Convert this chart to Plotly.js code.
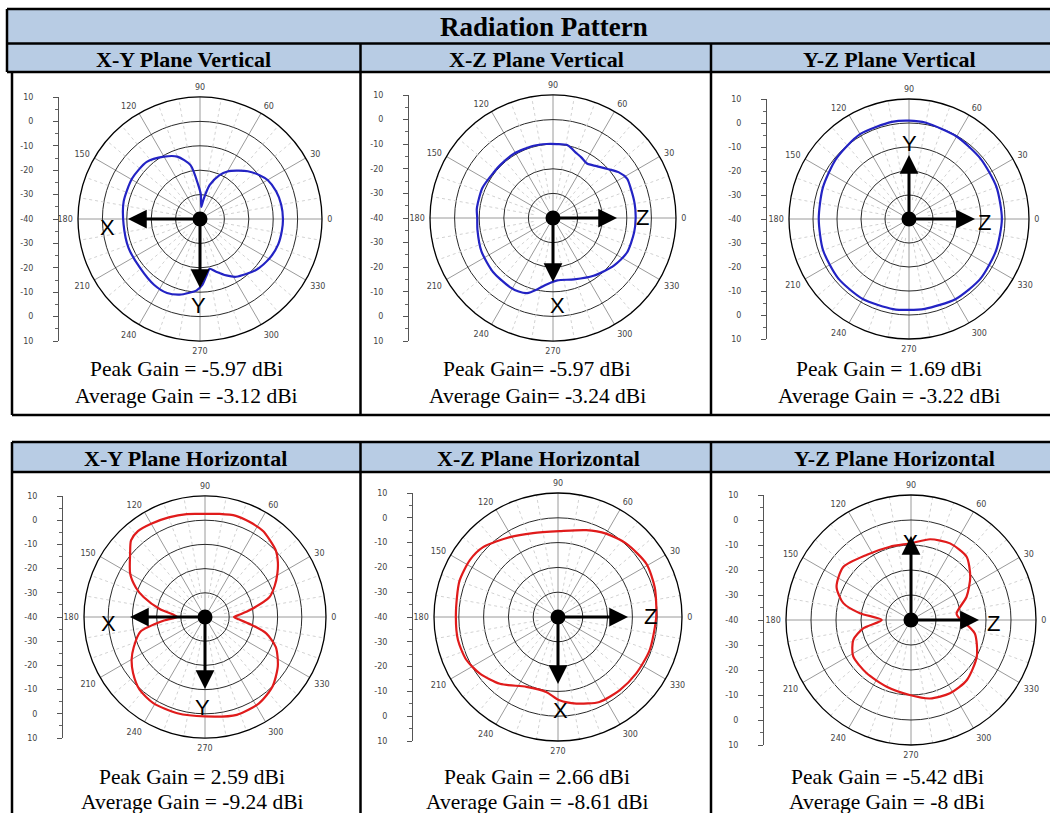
<!DOCTYPE html>
<html><head><meta charset="utf-8">
<script src="https://cdn.plot.ly/plotly-3.0.1.min.js"></script>
<style>html,body{margin:0;padding:0;background:#fff;}#chart{width:1050px;height:813px;}</style>
</head><body><div id="chart"></div>
<script>
const W = 1050, H = 813;

// ---------- text ----------
const mainTitle = 'Radiation Pattern';
const planeTitles = ['X-Y Plane Vertical', 'X-Z Plane Vertical', 'Y-Z Plane Vertical',
  'X-Y Plane Horizontal', 'X-Z Plane Horizontal', 'Y-Z Plane Horizontal'];
const peakText = ['Peak Gain = -5.97 dBi', 'Peak Gain= -5.97 dBi', 'Peak Gain = 1.69 dBi',
  'Peak Gain = 2.59 dBi', 'Peak Gain = 2.66 dBi', 'Peak Gain = -5.42 dBi'];
const avgText = ['Average Gain = -3.12 dBi', 'Average Gain= -3.24 dBi', 'Average Gain = -3.22 dBi',
  'Average Gain = -9.24 dBi', 'Average Gain = -8.61 dBi', 'Average Gain = -8 dBi'];
const axisLetters = [['X', 'Y'], ['Z', 'X'], ['Y', 'Z'], ['X', 'Y'], ['Z', 'X'], ['Y', 'Z']];

// ---------- pattern data (angle deg, gain dB) ----------
const theta1 = [0, 10, 20, 30, 36, 45, 53, 60, 66, 74, 80, 84, 88, 93, 100, 110, 120, 133, 149, 167, 184, 202, 219, 235, 246, 255, 262, 267, 272, 277, 281, 287, 295, 302, 318, 331, 342, 352, 360];
const r1 = [-6.0, -6.2, -6.8, -8.0, -9.6, -12.3, -15.2, -17.5, -20.3, -25.5, -32, -35, -30, -26, -17.6, -12.8, -10.5, -8.0, -7.6, -7.9, -8.6, -8.4, -8.3, -7.1, -6.8, -7.9, -9.5, -10.6, -13, -17, -19.2, -17.4, -14.5, -12.1, -8.9, -7.2, -6.3, -6.1, -6.0];

const theta2 = [0, 10, 20, 28, 35, 42, 50, 58, 65, 70, 79, 87, 95, 105, 121, 135, 142, 157, 173, 180, 189, 205, 222, 238, 245, 251, 258, 265, 274, 289, 305, 322, 335, 350, 360];
const r2 = [-6.4, -6.3, -6.2, -5.9, -7.5, -10.2, -12.5, -13.9, -12.8, -12, -9.8, -9.9, -9.8, -9.6, -9.4, -9.6, -9.6, -8.8, -8.8, -9.2, -8.9, -7.9, -7.2, -6.9, -7.0, -7.7, -10.5, -13, -14.6, -13.6, -11.3, -8.6, -6.8, -6.5, -6.4];

const theta3 = [0, 20, 40, 60, 80, 90, 100, 120, 140, 160, 180, 200, 220, 240, 260, 270, 280, 300, 320, 340, 360];
const r3 = [-1.3, -1.2, -1.0, -0.3, 0.7, 1.0, 1.1, 0.8, -0.6, -1.8, -2.4, -1.9, -1.5, -1.5, -1.9, -2.1, -2.0, -1.4, -1.2, -1.4, -1.3];

const theta4 = [0, 4, 9, 17, 24, 31, 37, 43, 50, 56, 65, 73, 82, 90, 100, 110, 120, 128, 134, 140, 150, 157, 162, 170, 176, 180, 185, 193, 203, 210, 218, 228, 239, 254, 270, 288, 302, 314, 326, 337, 345, 350, 356, 360];
const r4 = [-28, -25.5, -21, -12.2, -8.5, -5.1, -2.3, 0.1, 1.6, 2.9, 3.4, 3.7, 3.0, 2.6, 3.2, 3.8, 4.5, 5.0, 4.0, 0.4, -4.3, -9, -13.3, -21, -27, -28.5, -23, -12.5, -8, -5, -2.3, 0.4, 1.5, 1.4, 1.1, 2.5, 2.1, 0.1, -3.7, -8.2, -13.8, -20, -26, -28];

const theta5 = [0, 17, 31, 47, 60, 72, 89, 106.6, 121, 137, 147, 160, 178, 193, 205, 216, 229, 245.7, 261, 271, 282, 296, 310, 324, 340, 360];
const r5 = [-0.4, 0.8, 1.6, 0.4, -1.2, -3.2, -5.4, -4.7, -2.4, 1.3, 2.3, 2.3, 1.2, 1.4, 0.8, -1.1, -4.3, -9.1, -9.4, -6.4, -4.3, -1.9, -1.4, -1.1, -0.7, -0.4];

const theta6 = [0, 8, 22.7, 36, 48.7, 63, 76.7, 90, 106, 124, 142, 156, 166, 172.5, 180, 190, 199, 212, 230, 250, 269, 283.6, 298, 313, 331, 348, 358, 360];
const r6 = [-20, -21.6, -15.9, -10.7, -6.3, -5.6, -6.8, -9.3, -9.5, -8.5, -5.6, -7.4, -12.1, -19.4, -28.3, -20.6, -15.6, -12.7, -12.3, -11.6, -10, -7.7, -6.8, -7.2, -9.9, -13.9, -19, -20];

const thetas = [theta1, theta2, theta3, theta4, theta5, theta6];
const gains = [r1, r2, r3, r4, r5, r6];

// ---------- axis definitions ----------
const radialRange = [-40, 10];
const angTickVals = [0, 30, 60, 90, 120, 150, 180, 210, 240, 270, 300, 330];
const angTickText = ['0', '30', '60', '90', '120', '150', '180', '210', '240', '270', '300', '330'];
const scaleVals = [-50, -40, -30, -20, -10, 0, 10, 20, 30, 40, 50];
const scaleText = ['10', '0', '-10', '-20', '-30', '-40', '-30', '-20', '-10', '0', '10'];
const dottedAngles = [10, 20, 40, 50, 70, 80, 100, 110, 130, 140, 160, 170, 190, 200, 220, 230, 250, 260, 280, 290, 310, 320, 340, 350];

// ---------- layout geometry (pixels) ----------
const BLUE = '#2323c4', RED = '#e01b1b';
const cells = [
  {cx: 200, cy: 219, R: 122, sx: 59,  arrows: [[-72, 0], [0, 69]],  labels: [[107, 227], [198, 305]], tx: 186, ty1: 369, ty2: 396, color: BLUE},
  {cx: 553, cy: 218, R: 123, sx: 409, arrows: [[64, 0], [0, 64]],   labels: [[642, 218], [557, 305]], tx: 537, ty1: 369, ty2: 396, color: BLUE},
  {cx: 909, cy: 219, R: 120, sx: 767, arrows: [[0, -64], [66, 0]],  labels: [[909, 143], [984, 222]], tx: 889, ty1: 369, ty2: 396, color: BLUE},
  {cx: 205, cy: 617, R: 121, sx: 63,  arrows: [[-75, 0], [0, 72]],  labels: [[108, 623], [202, 707]], tx: 192, ty1: 777, ty2: 802, color: RED},
  {cx: 558, cy: 617, R: 124, sx: 413, arrows: [[70, 0], [0, 67]],   labels: [[650, 616], [560, 710]], tx: 537, ty1: 777, ty2: 802, color: RED},
  {cx: 911, cy: 620, R: 125, sx: 764, arrows: [[0, -84], [68, 0]],  labels: [[910, 542], [993, 623]], tx: 887, ty1: 777, ty2: 802, color: RED}
];
const headerX = [183, 536, 889, 185, 538, 894];
const headerY = [59, 59, 59, 458, 458, 458];

const PX = x => x / W;
const PY = y => 1 - y / H;

const traces = [];
const layout = {
  width: W, height: H,
  margin: {l: 0, r: 0, t: 0, b: 0},
  paper_bgcolor: '#ffffff',
  showlegend: false,
  hovermode: false,
  shapes: [],
  annotations: []
};

cells.forEach((c, i) => {
  const k = i + 1;
  const pid = k === 1 ? 'polar' : 'polar' + k;
  layout[pid] = {
    domain: {x: [PX(c.cx - c.R), PX(c.cx + c.R)], y: [PY(c.cy + c.R), PY(c.cy - c.R)]},
    bgcolor: '#ffffff',
    radialaxis: {range: radialRange, dtick: 10, showticklabels: false, ticks: '', showline: false,
      gridcolor: '#2a2a2a', gridwidth: 1},
    angularaxis: {tickmode: 'array', tickvals: angTickVals, ticktext: angTickText,
      rotation: 0, direction: 'counterclockwise', showline: true,
      linecolor: '#000', linewidth: 1.3, gridcolor: '#9a9a9a', gridwidth: 1,
      ticks: 'outside', ticklen: 3, tickcolor: 'rgba(0,0,0,0)',
      tickfont: {family: 'DejaVu Sans', size: 8, color: '#444'}}
  };
  // dotted secondary spokes
  const dt = [], dr = [];
  dottedAngles.forEach(a => { dt.push(a, a, null); dr.push(radialRange[0] + 8, radialRange[1], null); });
  traces.push({type: 'scatterpolar', subplot: pid, theta: dt, r: dr, mode: 'lines',
    line: {color: '#d2d2d2', width: 1, dash: 'dot'}, hoverinfo: 'skip', connectgaps: false});
  // pattern
  traces.push({type: 'scatterpolar', subplot: pid, theta: thetas[i], r: gains[i], mode: 'lines',
    line: {color: c.color, width: 2.2, shape: 'spline', smoothing: 0.7}, hoverinfo: 'skip'});
  // centre dot
  traces.push({type: 'scatterpolar', subplot: pid, theta: [0], r: [radialRange[0]], mode: 'markers',
    marker: {color: '#000', size: 15}, hoverinfo: 'skip'});

  // scale bar on the left (cartesian y axis)
  const xa = 'xaxis' + (k === 1 ? '' : k), ya = 'yaxis' + (k === 1 ? '' : k);
  const xs = 'x' + (k === 1 ? '' : k), ys = 'y' + (k === 1 ? '' : k);
  layout[xa] = {domain: [PX(c.sx), PX(c.sx + 2)], range: [0, 1], visible: false, fixedrange: true, anchor: ys};
  layout[ya] = {domain: [PY(c.cy + c.R), PY(c.cy - c.R)], range: [-50, 50], anchor: xs, side: 'left',
    tickvals: scaleVals, ticktext: scaleText, showline: true, linecolor: '#555', linewidth: 1,
    ticks: 'outside', ticklen: 5, tickcolor: '#555', showgrid: false, zeroline: false, fixedrange: true,
    ticklabelstandoff: 18,
    tickfont: {family: 'DejaVu Sans', size: 8, color: '#444'},
    minor: {ticks: 'outside', ticklen: 3, dtick: 5, tickcolor: '#666', showgrid: false}};
  traces.push({type: 'scatter', xaxis: xs, yaxis: ys, x: [0.5], y: [0], mode: 'markers',
    marker: {opacity: 0}, hoverinfo: 'skip'});

  // arrows
  c.arrows.forEach(([dx, dy]) => {
    layout.annotations.push({xref: 'paper', yref: 'paper', x: PX(c.cx + dx), y: PY(c.cy + dy),
      ax: -dx, ay: -dy, axref: 'pixel', ayref: 'pixel', text: '', showarrow: true,
      arrowhead: 2, arrowsize: 1.25, arrowwidth: 3, arrowcolor: '#000', standoff: 0, startstandoff: 0});
  });
  c.labels.forEach(([lx, ly], j) => {
    layout.annotations.push({xref: 'paper', yref: 'paper', x: PX(lx), y: PY(ly), text: axisLetters[i][j],
      showarrow: false, xanchor: 'center', yanchor: 'middle',
      font: {family: 'Liberation Sans', size: 22, color: '#000'}});
  });
  // gain text
  [[peakText[i], c.ty1], [avgText[i], c.ty2]].forEach(([t, ty]) => {
    layout.annotations.push({xref: 'paper', yref: 'paper', x: PX(c.tx), y: PY(ty), text: t,
      showarrow: false, xanchor: 'center', yanchor: 'middle',
      font: {family: 'Liberation Serif', size: 21.5, color: '#000'}});
  });
  // header
  layout.annotations.push({xref: 'paper', yref: 'paper', x: PX(headerX[i]), y: PY(headerY[i]),
    text: '<b>' + planeTitles[i] + '</b>', showarrow: false, xanchor: 'center', yanchor: 'middle',
    font: {family: 'Liberation Serif', size: 22, color: '#000'}});
});

layout.annotations.push({xref: 'paper', yref: 'paper', x: PX(544), y: PY(27), text: '<b>' + mainTitle + '</b>',
  showarrow: false, xanchor: 'center', yanchor: 'middle', font: {family: 'Liberation Serif', size: 27, color: '#000'}});

// ---------- table frame ----------
const HEAD_BG = '#b8cce4';
function rect(x0, y0, x1, y1, fill) {
  layout.shapes.push({type: 'rect', xref: 'paper', yref: 'paper', x0: PX(x0), x1: PX(x1), y0: PY(y1), y1: PY(y0),
    fillcolor: fill, line: {width: 0}, layer: 'below'});
}
function line(x0, y0, x1, y1) {
  layout.shapes.push({type: 'line', xref: 'paper', yref: 'paper', x0: PX(x0), x1: PX(x1), y0: PY(y0), y1: PY(y1),
    line: {color: '#000', width: 2.5}, layer: 'above'});
}
rect(7, 9, 1050, 72, HEAD_BG);
rect(12, 442, 1050, 472, HEAD_BG);
line(7, 9, 1050, 9);
line(7, 43.5, 1050, 43.5);
line(7, 72, 1050, 72);
line(7, 9, 7, 72);
line(12, 72, 12, 415);
line(12, 415, 1050, 415);
line(360.5, 43.5, 360.5, 415);
line(711, 43.5, 711, 415);
line(12, 442, 1050, 442);
line(12, 472, 1050, 472);
line(12, 442, 12, 813);
line(360.5, 442, 360.5, 813);
line(711, 442, 711, 813);

Plotly.newPlot('chart', traces, layout, {staticPlot: true, displayModeBar: false});
</script>
</body></html>
